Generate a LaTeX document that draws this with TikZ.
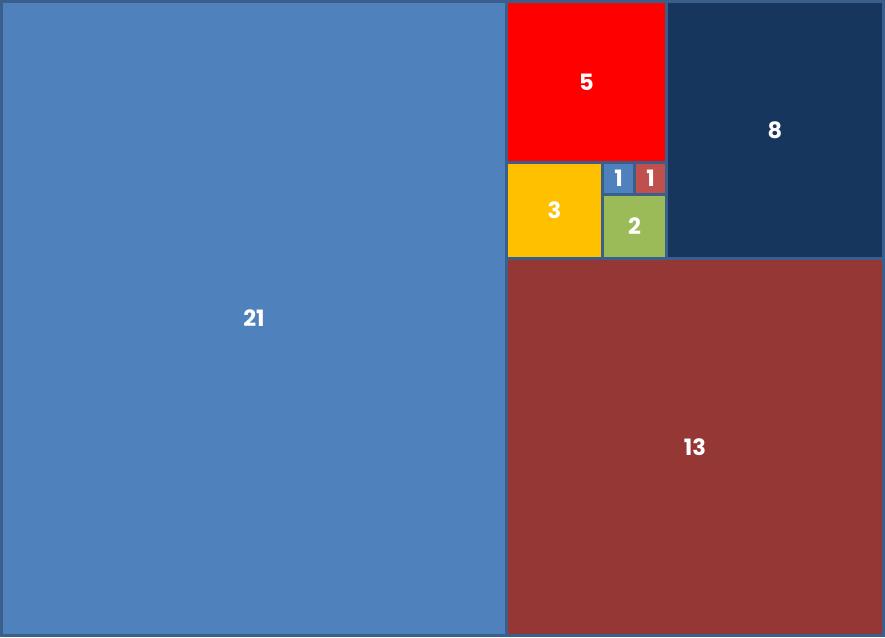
\documentclass[tikz,border=0pt]{standalone}
\usepackage{fontspec}
\setmainfont{Poppins}
\usepackage{tikz}

\definecolor{edgeblue}{HTML}{3A5F8B}
\definecolor{tileblue}{HTML}{4F81BD}
\definecolor{tilered}{HTML}{FF0000}
\definecolor{tilenavy}{HTML}{17365D}
\definecolor{tileyellow}{HTML}{FFC000}
\definecolor{tilerose}{HTML}{C0504D}
\definecolor{tilegreen}{HTML}{9BBB59}
\definecolor{tilemaroon}{HTML}{953735}

\begin{document}
\begin{tikzpicture}[x=1pt,y=-1pt,
          tile/.style={rectangle,draw=edgeblue,line width=3pt,inner sep=0pt,
            text=white,font=\fontsize{22.5}{22.5}\selectfont\bfseries}]
          \useasboundingbox (0,0) rectangle (885,637);
          \node[tile,fill=tileblue,minimum width=505pt,minimum height=634pt] (N21) at (254,318.5) {21};
          \node[tile,fill=tilered,minimum width=160pt,minimum height=161pt] (N5) at (586.5,82) {5};
          \node[tile,fill=tilenavy,minimum width=217pt,minimum height=257pt] (N8) at (775,130) {8};
          \node[tile,fill=tileyellow,minimum width=96pt,minimum height=96pt] (N3) at (554.5,210.5) {3};
          \node[tile,fill=tileblue,minimum width=32pt,minimum height=32pt] (N1a) at (618.5,178.5) {1};
          \node[tile,fill=tilerose,minimum width=32pt,minimum height=32pt] (N1b) at (650.5,178.5) {1};
          \node[tile,fill=tilegreen,minimum width=64pt,minimum height=64pt] (N2) at (634.5,226.5) {2};
          \node[tile,fill=tilemaroon,minimum width=377pt,minimum height=377pt] (N13) at (695,447) {13};
        \end{tikzpicture}
\end{document}
